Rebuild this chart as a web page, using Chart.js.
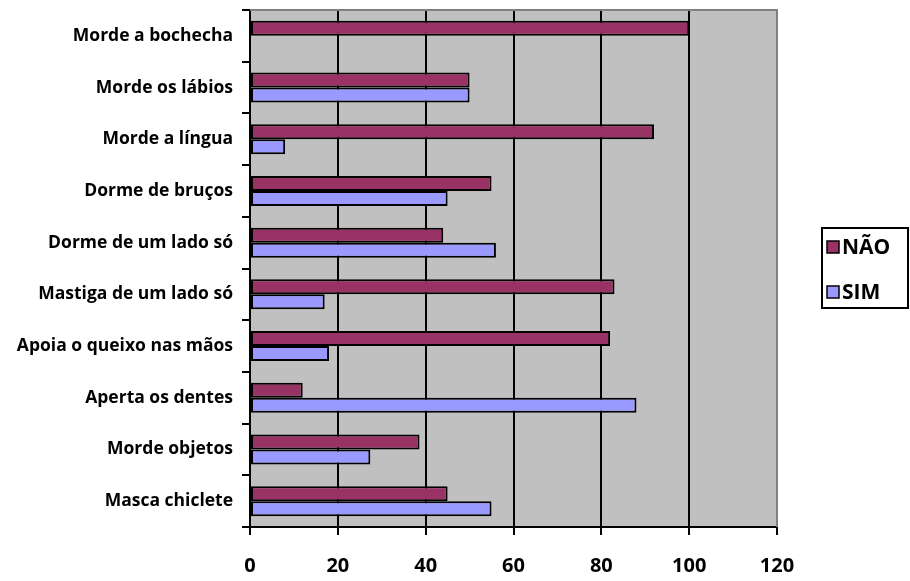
<!DOCTYPE html>
<html>
<head>
<meta charset="utf-8">
<script src="https://cdn.jsdelivr.net/npm/chart.js@4.4.1/dist/chart.umd.min.js"></script>
<style>
  html, body { margin: 0; padding: 0; background: #ffffff; }
  canvas { display: block; }
</style>
</head>
<body>
<canvas id="chart" width="910" height="581"></canvas>
<script>
// Hábitos parafuncionais: percentual de respostas NÃO / SIM
const categories = [
  'Morde a bochecha',
  'Morde os lábios',
  'Morde a língua',
  'Dorme de bruços',
  'Dorme de um lado só',
  'Mastiga de um lado só',
  'Apoia o queixo nas mãos',
  'Aperta os dentes',
  'Morde objetos',
  'Masca chiclete'
];
const naoValues = [100, 50, 92, 55, 44, 83, 82, 12, 38.6, 45];
const simValues = [0, 50, 8, 45, 56, 17, 18, 88, 27.4, 55];
const xTicks = [0, 20, 40, 60, 80, 100, 120];

const FONT = '"Open Sans", "DejaVu Sans", sans-serif';

// grey plot background, grey frame, black value axis
const plotFrame = {
  id: 'plotFrame',
  beforeDraw(chart) {
    const { ctx, chartArea: a } = chart;
    ctx.save();
    ctx.fillStyle = '#C0C0C0';
    ctx.fillRect(a.left, a.top, a.right - a.left, a.bottom - a.top);
    ctx.restore();
  },
  afterDatasetsDraw(chart) {
    const { ctx, chartArea: a } = chart;
    ctx.save();
    ctx.strokeStyle = '#808080';
    ctx.lineWidth = 2;
    ctx.beginPath();
    ctx.moveTo(a.left, a.top);
    ctx.lineTo(a.right, a.top);
    ctx.lineTo(a.right, a.bottom);
    ctx.stroke();
    ctx.restore();
  }
};

// framed legend to the right of the plot
const boxLegend = {
  id: 'boxLegend',
  afterDraw(chart) {
    const { ctx } = chart;
    const x = 822, y = 228, w = 86, h = 80;
    ctx.save();
    ctx.fillStyle = '#ffffff';
    ctx.fillRect(x, y, w, h);
    ctx.strokeStyle = '#000000';
    ctx.lineWidth = 2;
    ctx.strokeRect(x, y, w, h);
    ctx.font = 'bold 21px ' + FONT;
    ctx.textBaseline = 'middle';
    chart.data.datasets.forEach((ds, i) => {
      const cy = 247 + i * 45;
      ctx.fillStyle = ds.backgroundColor;
      ctx.fillRect(827, cy - 6, 12, 12);
      ctx.lineWidth = 1.5;
      ctx.strokeStyle = '#000000';
      ctx.strokeRect(827, cy - 6, 12, 12);
      ctx.fillStyle = '#000000';
      ctx.fillText(ds.label, 842, cy + 1);
    });
    ctx.restore();
  }
};

new Chart(document.getElementById('chart'), {
  type: 'bar',
  data: {
    labels: categories,
    datasets: [
      {
        label: 'NÃO',
        data: naoValues,
        backgroundColor: '#993366',
        borderColor: '#000000',
        borderWidth: 2,
        borderSkipped: false,
        barPercentage: 1,
        categoryPercentage: 0.58
      },
      {
        label: 'SIM',
        data: simValues,
        backgroundColor: '#9999FF',
        borderColor: '#000000',
        borderWidth: 2,
        borderSkipped: false,
        barPercentage: 1,
        categoryPercentage: 0.58
      }
    ]
  },
  options: {
    indexAxis: 'y',
    responsive: false,
    animation: false,
    layout: { padding: { top: 10, right: 133, left: 0, bottom: 0 } },
    plugins: {
      legend: { display: false },
      tooltip: { enabled: false }
    },
    scales: {
      x: {
        min: 0,
        max: 120,
        afterBuildTicks(scale) {
          scale.ticks = xTicks.map(v => ({ value: v }));
        },
        afterFit(scale) {
          scale.height = 54;
          scale.paddingLeft = 0;
          scale.paddingRight = 0;
        },
        border: { display: true, color: '#000000', width: 2 },
        grid: {
          color: ctx => (ctx.tick && ctx.tick.value === 120) ? 'rgba(0,0,0,0)' : '#000000',
          tickColor: '#000000',
          lineWidth: 2,
          tickLength: 8
        },
        ticks: {
          color: '#000000',
          padding: 19,
          font: { family: FONT, size: 20, weight: 'bold' }
        }
      },
      y: {
        afterFit(scale) {
          scale.width = 250;
          scale.paddingTop = 0;
          scale.paddingBottom = 0;
        },
        border: { display: true, color: '#000000', width: 2 },
        grid: {
          drawOnChartArea: false,
          offset: true,
          color: '#000000',
          lineWidth: 2,
          tickLength: 8
        },
        ticks: {
          color: '#000000',
          padding: 9,
          font: { family: FONT, size: 17.5, weight: 'bold' }
        }
      }
    }
  },
  plugins: [plotFrame, boxLegend]
});
</script>
</body>
</html>
